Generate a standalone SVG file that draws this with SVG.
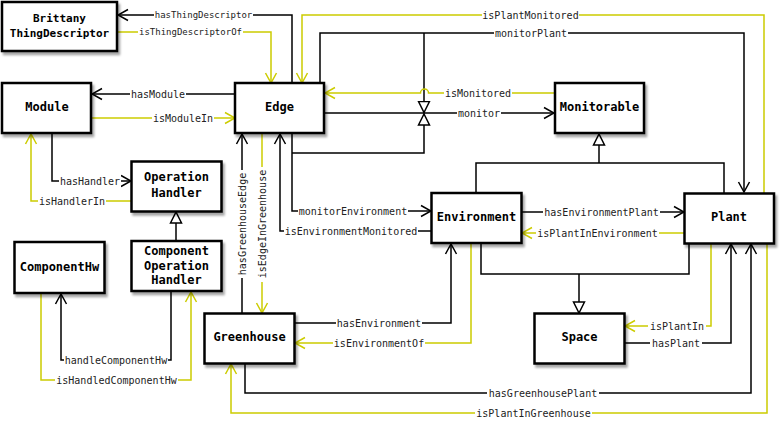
<svg xmlns="http://www.w3.org/2000/svg" width="781" height="427" viewBox="0 0 781 427">
<style>
.node rect.b{fill:#fff;stroke:#000;stroke-width:2.5;filter:url(#sh)}
.node text{font-family:"DejaVu Sans Mono","Liberation Mono",monospace;font-weight:bold;font-size:12px;fill:#000;text-anchor:middle;dominant-baseline:central}
.k{fill:none;stroke:#000;stroke-width:1.5}
.y{fill:none;stroke:#cccc00;stroke-width:1.5}
.ka{marker-end:url(#ak)}
.ya{marker-end:url(#ay)}
.ti{marker-end:url(#tri)}
.lb{fill:#fff}
.lt{font-family:"DejaVu Sans Mono","Liberation Mono",monospace;font-size:10px;fill:#222;text-anchor:middle;dominant-baseline:central}
.s9{font-size:9px}
</style>
<defs>
<filter id="sh" x="-10%" y="-10%" width="130%" height="140%">
<feDropShadow dx="2" dy="3" stdDeviation="1.2" flood-color="#000" flood-opacity="0.35"/>
</filter>
<marker id="ak" viewBox="-11 -7 12 14" refX="0" refY="0" markerWidth="12" markerHeight="14" markerUnits="userSpaceOnUse" orient="auto">
<path d="M-10,-5.5 L0,0 L-10,5.5" fill="none" stroke="#000" stroke-width="1.5"/>
</marker>
<marker id="ay" viewBox="-11 -7 12 14" refX="0" refY="0" markerWidth="12" markerHeight="14" markerUnits="userSpaceOnUse" orient="auto">
<path d="M-10,-5.5 L0,0 L-10,5.5" fill="none" stroke="#cccc00" stroke-width="1.5"/>
</marker>
<marker id="tri" viewBox="-12 -7 13 14" refX="0" refY="0" markerWidth="13" markerHeight="14" markerUnits="userSpaceOnUse" orient="auto">
<path d="M-11,-5.5 L0,0 L-11,5.5 Z" fill="#fff" stroke="#000" stroke-width="1.5"/>
</marker>
</defs>
<rect width="781" height="427" fill="#fff"/>

<g id="connectors">
<!-- black -->
<path class="k ka" d="M292,83 V15 H118"/>
<path class="k ka" d="M320,83 V33 H744 V192"/>
<path class="k ti" d="M424,33 V112.5"/>
<path class="k ti" d="M292,153 H424 V114"/>
<path class="k ka" d="M325,113 H554"/>
<path class="k ka" d="M235,94 H92"/>
<path class="k ka" d="M52,133 V181 H131"/>
<path class="k ti" d="M176,241 V212"/>
<path class="k ka" d="M171,291 V360 H61 V294"/>
<path class="k ka" d="M242,313 V134"/>
<path class="k ka" d="M292,133 V211 H431"/>
<path class="k ka" d="M431,231 H280 V134"/>
<path class="k ka" d="M522,212 H684"/>
<path class="k" d="M476,193 V163 H724 V193"/>
<path class="k ti" d="M599,163 V134"/>
<path class="k" d="M481,243 V274 H689 V243"/>
<path class="k ti" d="M579,274 V313"/>
<path class="k ka" d="M295,323 H451 V244"/>
<path class="k ka" d="M625,343 H731 V244"/>
<path class="k ka" d="M245,363 V393 H751 V244"/>
<!-- yellow -->
<path class="y ya" d="M118,32 H271 V83"/>
<path class="y ya" d="M764,193 V15 H302 V83"/>
<path class="y ya" d="M554,93 H428.5 A4,4 0 0 0 420.5,93 H325"/>
<path class="y ya" d="M92,118 H235"/>
<path class="y ya" d="M131,201 H31 V134"/>
<path class="y ya" d="M41,293 V380 H191 V292"/>
<path class="y ya" d="M262,133 V313"/>
<path class="y ya" d="M684,233 H522"/>
<path class="y ya" d="M471,243 V343 H295"/>
<path class="y ya" d="M711,243 V326 H625"/>
<path class="y ya" d="M767,243 V413 H231 V364"/>

<!-- labels -->
<rect class="lb" x="154" y="10" width="99" height="10"/><text class="lt s9" x="203.5" y="15">hasThingDescriptor</text>
<rect class="lb" x="138" y="27" width="105" height="10"/><text class="lt s9" x="190.5" y="32">isThingDescriptorOf</text>
<rect class="lb" x="482" y="9" width="97" height="12"/><text class="lt" x="530.5" y="15">isPlantMonitored</text>
<rect class="lb" x="494" y="27" width="74" height="12"/><text class="lt" x="531" y="33">monitorPlant</text>
<rect class="lb" x="444" y="87" width="68" height="12"/><text class="lt" x="478" y="93">isMonitored</text>
<rect class="lb" x="457" y="107" width="44" height="12"/><text class="lt" x="479" y="113">monitor</text>
<rect class="lb" x="130" y="88" width="56" height="12"/><text class="lt" x="158" y="94">hasModule</text>
<rect class="lb" x="152" y="112" width="62" height="12"/><text class="lt" x="183" y="118">isModuleIn</text>
<rect class="lb" x="59" y="175" width="62" height="12"/><text class="lt" x="90" y="181">hasHandler</text>
<rect class="lb" x="38" y="195" width="68" height="12"/><text class="lt" x="72" y="201">isHandlerIn</text>
<rect class="lb" x="64" y="354" width="104" height="12"/><text class="lt" x="116" y="360">handleComponentHw</text>
<rect class="lb" x="55" y="374" width="123" height="12"/><text class="lt" x="116.5" y="380">isHandledComponentHw</text>
<rect class="lb" x="236" y="170" width="12" height="108"/><text class="lt" transform="translate(242,224) rotate(-90)" x="0" y="0">hasGreenhouseEdge</text>
<rect class="lb" x="256" y="167" width="12" height="115"/><text class="lt" transform="translate(262,224) rotate(-90)" x="0" y="0">isEdgeInGreenhouse</text>
<rect class="lb" x="298" y="205" width="110" height="12"/><text class="lt" x="353" y="211">monitorEnvironment</text>
<rect class="lb" x="284" y="225" width="134" height="12"/><text class="lt" x="351" y="231">isEnvironmentMonitored</text>
<rect class="lb" x="543" y="206" width="117" height="12"/><text class="lt" x="601.5" y="212">hasEnvironmentPlant</text>
<rect class="lb" x="536" y="227" width="123" height="12"/><text class="lt" x="597.5" y="233">isPlantInEnvironment</text>
<rect class="lb" x="336" y="317" width="86" height="12"/><text class="lt" x="379" y="323">hasEnvironment</text>
<rect class="lb" x="333" y="337" width="92" height="12"/><text class="lt" x="379" y="343">isEnvironmentOf</text>
<rect class="lb" x="648" y="320" width="58" height="12"/><text class="lt" x="677" y="326">isPlantIn</text>
<rect class="lb" x="650" y="337" width="52" height="12"/><text class="lt" x="676" y="343">hasPlant</text>
<rect class="lb" x="487" y="387" width="112" height="12"/><text class="lt" x="543" y="393">hasGreenhousePlant</text>
<rect class="lb" x="475" y="407" width="117" height="12"/><text class="lt" x="533.5" y="413">isPlantInGreenhouse</text>
</g>

<g id="brittany" class="node"><rect class="b" x="2" y="2" width="115" height="49"/><text x="59.5" y="18" style="font-size:11px">Brittany</text><text x="59.5" y="33.5" style="font-size:11px">ThingDescriptor</text></g>
<g id="module" class="node"><rect class="b" x="2" y="83" width="89" height="50"/><text x="47" y="107">Module</text></g>
<g id="edge" class="node"><rect class="b" x="235" y="83" width="89" height="50"/><text x="279.5" y="107">Edge</text></g>
<g id="monitorable" class="node"><rect class="b" x="555" y="83" width="89" height="50"/><text x="599.5" y="107">Monitorable</text></g>
<g id="operationHandler" class="node"><rect class="b" x="131.5" y="161.5" width="90" height="50"/><text x="176.5" y="177">Operation</text><text x="176.5" y="192.5">Handler</text></g>
<g id="componentHw" class="node"><rect class="b" x="14.5" y="242" width="90" height="51"/><text x="59.5" y="267">ComponentHw</text></g>
<g id="componentOperationHandler" class="node"><rect class="b" x="131.5" y="241" width="90" height="50"/><text x="176.5" y="251">Component</text><text x="176.5" y="265.5">Operation</text><text x="176.5" y="280">Handler</text></g>
<g id="environment" class="node"><rect class="b" x="431.5" y="193" width="90" height="50"/><text x="476.5" y="217">Environment</text></g>
<g id="plant" class="node"><rect class="b" x="684.5" y="193.5" width="89.5" height="50"/><text x="729" y="217">Plant</text></g>
<g id="greenhouse" class="node"><rect class="b" x="204.5" y="313.5" width="90" height="50"/><text x="249.5" y="337">Greenhouse</text></g>
<g id="space" class="node"><rect class="b" x="534.5" y="313.5" width="90" height="50"/><text x="579.5" y="337">Space</text></g>
</svg>
